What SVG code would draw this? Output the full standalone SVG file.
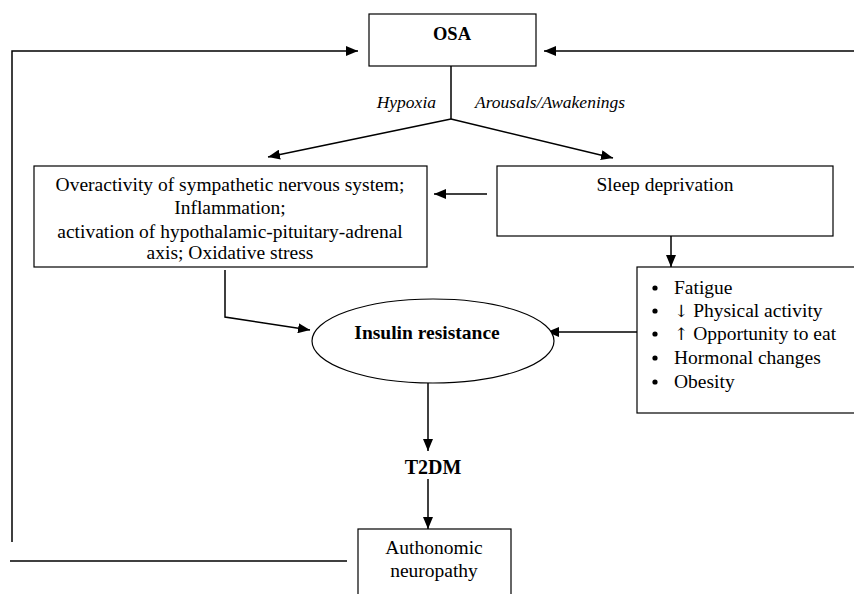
<svg xmlns="http://www.w3.org/2000/svg" width="854" height="594" viewBox="0 0 854 594">
<defs>
<marker id="ah" viewBox="0 0 12 10" refX="12" refY="5" markerWidth="12" markerHeight="10" markerUnits="userSpaceOnUse" orient="auto">
<path d="M0,0 L12,5 L0,10 Z" fill="#000"/>
</marker>
</defs>
<style>
.bx{fill:#fff;stroke:#000;stroke-width:1.2}
.ln{fill:none;stroke:#000;stroke-width:1.5}
.ar{fill:none;stroke:#000;stroke-width:1.5;marker-end:url(#ah)}
text{font-family:"Liberation Serif","Times New Roman",serif;font-size:19.5px;fill:#000}
.c{text-anchor:middle}
.b{font-weight:bold}
.i{font-style:italic;font-size:17.5px}
.sym{font-family:"DejaVu Serif",serif;font-size:17px;fill:#000}
</style>
<rect width="854" height="594" fill="#fff"/>
<g id="connectors">
<polyline class="ar" points="12,542 12,51 358,51"/>
<line class="ar" x1="854" y1="51" x2="544" y2="51"/>
<line class="ln" x1="451" y1="66" x2="451" y2="119"/>
<line class="ar" x1="451" y1="119" x2="268" y2="157"/>
<line class="ar" x1="451" y1="119" x2="613" y2="158"/>
<line class="ar" x1="487" y1="194" x2="434" y2="194"/>
<line class="ar" x1="671" y1="236" x2="671" y2="267"/>
<line class="ar" x1="637" y1="332" x2="547" y2="332"/>
<polyline class="ar" points="225,270 225,317 310,330"/>
<line class="ar" x1="428" y1="383" x2="428" y2="451"/>
<line class="ar" x1="428" y1="479" x2="428" y2="529"/>
<line class="ln" x1="10" y1="561" x2="347" y2="561"/>
<text class="i" x="436" y="108" text-anchor="end">Hypoxia</text>
<text class="i" x="475" y="108">Arousals/Awakenings</text>
</g>
<g id="osa">
<rect class="bx" x="369" y="14" width="167" height="52"/>
<text class="c b" x="452" y="40" style="font-size:18.5px">OSA</text>
</g>
<g id="sympathetic">
<rect class="bx" x="34" y="166" width="393" height="101"/>
<text class="c" x="230" y="191">Overactivity of sympathetic nervous system;</text>
<text class="c" x="230" y="214">Inflammation;</text>
<text class="c" x="230" y="238">activation of hypothalamic-pituitary-adrenal</text>
<text class="c" x="230" y="259">axis; Oxidative stress</text>
</g>
<g id="sleep">
<rect class="bx" x="497" y="166" width="336" height="70"/>
<text class="c" x="665" y="191">Sleep deprivation</text>
</g>
<g id="effects">
<rect class="bx" x="637" y="267" width="221" height="146"/>
<g>
<circle cx="655" cy="288" r="2.6"/>
<circle cx="655" cy="311" r="2.6"/>
<circle cx="655" cy="334" r="2.6"/>
<circle cx="655" cy="358" r="2.6"/>
<circle cx="655" cy="382" r="2.6"/>
</g>
<text x="674" y="294">Fatigue</text>
<text x="674" y="317"><tspan class="sym">↓</tspan> Physical activity</text>
<text x="674" y="340"><tspan class="sym">↑</tspan> Opportunity to eat</text>
<text x="674" y="364">Hormonal changes</text>
<text x="674" y="388">Obesity</text>
</g>
<g id="insulin">
<ellipse class="bx" cx="433" cy="341" rx="121" ry="42"/>
<text class="c b" x="427" y="339">Insulin resistance</text>
</g>
<g id="t2dm">
<text class="c b" x="433" y="474" style="font-size:20px">T2DM</text>
</g>
<g id="neuropathy">
<rect class="bx" x="358" y="529" width="153" height="70"/>
<text class="c" x="434" y="554">Authonomic</text>
<text class="c" x="434" y="577">neuropathy</text>
</g>
</svg>
